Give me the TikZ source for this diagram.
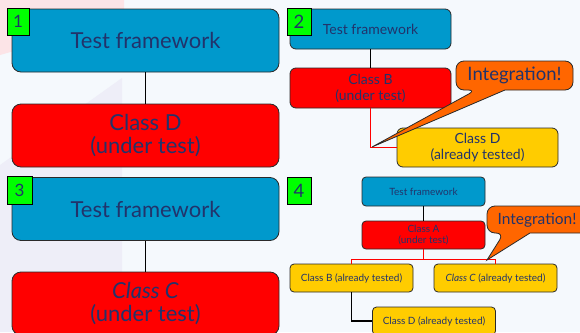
\documentclass[tikz,border=0pt]{standalone}
\usepackage{fontspec}
\setmainfont{Lato}
\usetikzlibrary{calc}
\definecolor{bgc}{HTML}{F5F9FD}
\definecolor{pinkbg}{HTML}{FCE4E7}
\definecolor{lavbg}{HTML}{EEEEF8}
\definecolor{boxblue}{HTML}{0099CC}
\definecolor{boxred}{HTML}{FF0000}
\definecolor{boxyellow}{HTML}{FFCC00}
\definecolor{boxorange}{HTML}{FF6600}
\definecolor{labgreen}{HTML}{00FF00}
\definecolor{txt}{HTML}{22336B}
\definecolor{edge}{HTML}{2A2A2A}
\tikzset{
  base/.style={draw=edge, line width=0.8pt, inner sep=0pt, align=center, text=txt},
  bluebox/.style={base, fill=boxblue},
  redbox/.style={base, fill=boxred},
  yellowbox/.style={base, fill=boxyellow},
  labbox/.style={draw=black, line width=0.8pt, fill=labgreen, inner sep=0pt, text=txt},
  callout/.style={draw=edge, line width=0.8pt, fill=boxorange},
  conn/.style={line width=1.6pt, draw=black},
  redconn/.style={line width=1.4pt, draw=red},
  bigbox/.style={minimum width=267pt, minimum height=63pt, rounded corners=9pt, font=\fontsize{22}{23}\selectfont},
  midbox/.style={minimum width=161pt, minimum height=40pt, rounded corners=6pt, font=\fontsize{14}{16}\selectfont},
  smallbox/.style={minimum width=123pt, minimum height=28pt, rounded corners=4pt, font=\fontsize{10}{11}\selectfont},
}
\begin{document}
\begin{tikzpicture}[x=1pt,y=-1pt]
\useasboundingbox (0,0) rectangle (580,332);
\clip (0,0) rectangle (580,332);
\fill[bgc] (0,0) rectangle (580,332);
\fill[pinkbg] (0,0) -- (124,0) -- (124,20) -- (0,55) -- cycle;
\fill[lavbg] (122,78) -- (122,332) -- (0,332) -- (0,165) -- cycle;

% Panel 1
\node[bluebox, bigbox] (tf1) at (145.5,40.5) {Test framework};
\node[redbox, bigbox] (cd1) at (145.5,135.5) {Class D\\(under test)};
\draw[conn] (tf1.south) -- (cd1.north);
\node[labbox, minimum width=22pt, minimum height=27pt, font=\fontsize{17}{17}\selectfont] (n1) at (18,21.5) {1};

% Panel 2
\node[bluebox, midbox] (tf2) at (370.5,29) {Test framework};
\node[redbox, midbox] (cb2) at (370.5,88) {Class B\\(under test)};
\node[yellowbox, midbox, minimum height=39pt] (cd2) at (477.5,147.5) {Class D\\(already tested)};
\draw[conn] (tf2.south) -- (cb2.north);
\draw[redconn] (cb2.south) |- (cd2.west);
\coordinate (tip2) at (372,147);
\draw[callout] (476,90) -- (tip2) -- (505,90) [rounded corners=8pt] -- (573,90) -- (573,61) -- (456,61) -- (456,90) -- cycle;
\node[text=txt, font=\fontsize{18.5}{19}\selectfont] (int2) at (514.5,75.5) {Integration!};
\node[labbox, minimum width=24pt, minimum height=27pt, font=\fontsize{18.5}{19}\selectfont] (n2) at (299,21.5) {2};

% Panel 3
\node[bluebox, bigbox] (tf3) at (145.5,209) {Test framework};
\node[redbox, bigbox] (cc3) at (145.5,303.5) {\textit{Class C}\\(under test)};
\draw[conn] (tf3.south) -- (cc3.north);
\node[labbox, minimum width=25pt, minimum height=28pt, font=\fontsize{17}{17}\selectfont] (n3) at (19.5,190) {3};

% Panel 4
\node[bluebox, smallbox, minimum height=29pt] (tf4) at (423.5,191.5) {Test framework};
\node[redbox, smallbox] (ca4) at (423.5,235) {Class A\\(under test)};
\node[yellowbox, smallbox] (cb4) at (351.5,278) {Class B (already tested)};
\node[yellowbox, smallbox] (cc4) at (495.5,278) {\textit{Class C} (already tested)};
\node[yellowbox, smallbox] (cd4) at (434,321) {Class D (already tested)};
\draw[conn] (tf4.south) -- (ca4.north);
\coordinate (j4) at ($(ca4.south)+(0,10)$);
\draw[redconn] (ca4.south) -- (j4) -| (cb4.north);
\draw[redconn] (j4) -| (cc4.north);
\draw[conn] (cb4.south) |- (cd4.west);
\coordinate (tip4) at (487,260);
\draw[callout] (504,233) -- (tip4) -- (530,233) [rounded corners=8pt] -- (600,233) -- (600,206) -- (487,206) -- (487,233) -- cycle;
\node[text=txt, font=\fontsize{15.5}{16}\selectfont] (int4) at (537,220) {Integration!};
\node[labbox, minimum width=24pt, minimum height=27pt, font=\fontsize{18.5}{19}\selectfont] (n4) at (299,190.5) {4};
\end{tikzpicture}
\end{document}
